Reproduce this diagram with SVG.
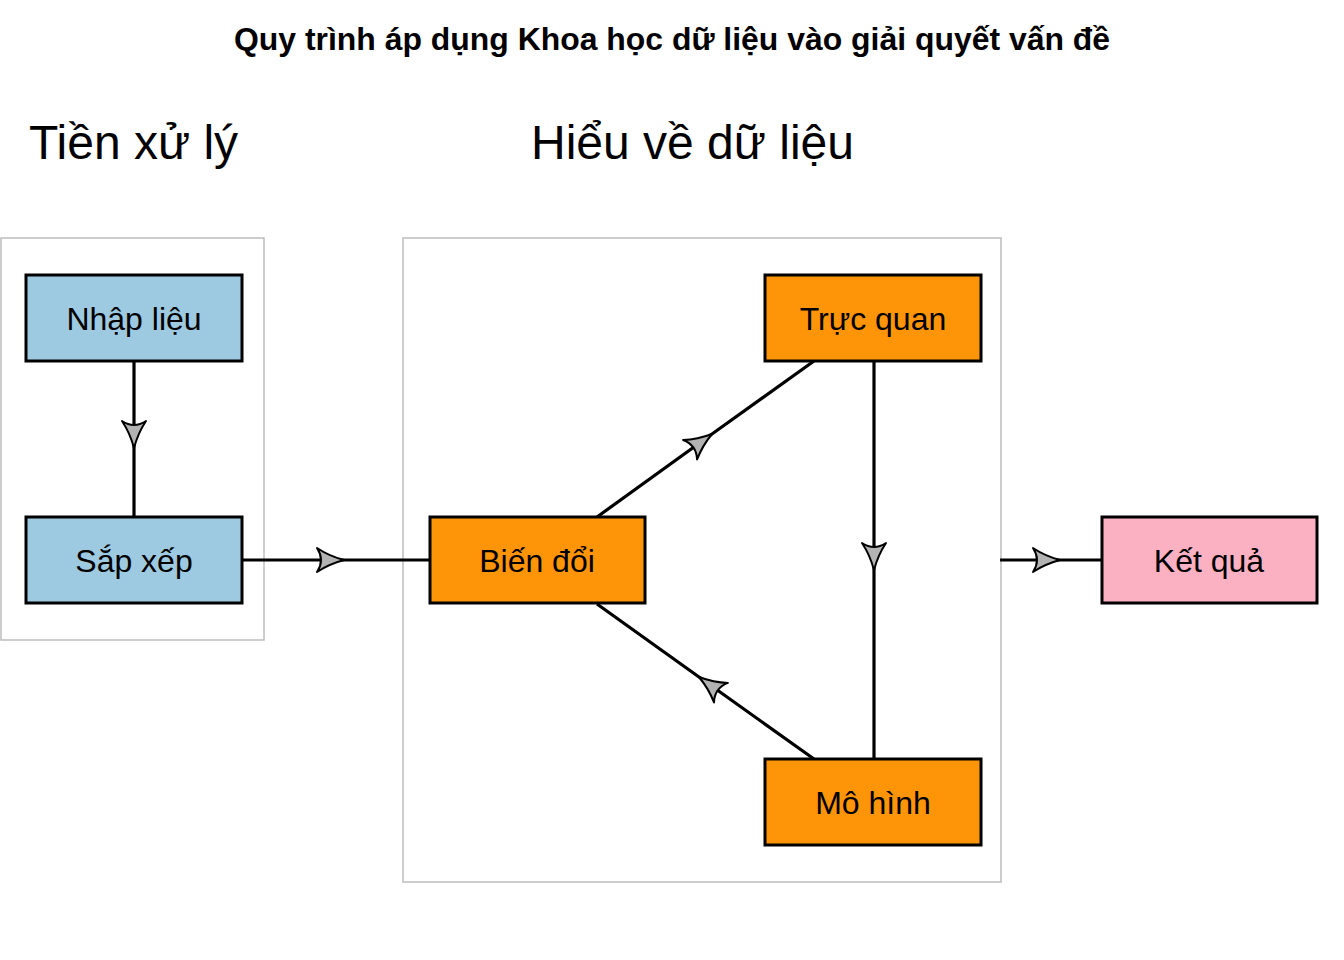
<svg xmlns="http://www.w3.org/2000/svg" width="1344" height="960" viewBox="0 0 1344 960">
<style>
text{font-family:"Liberation Sans",Arial,sans-serif;fill:#000}
.title{font-size:31px;font-weight:bold}
.cl{font-size:48px}
.lbl{font-size:32px}
.cluster{fill:none;stroke:#bdbdbd;stroke-width:1.5}
.node{stroke:#000;stroke-width:3}
.blue{fill:#9ecae1}
.orange{fill:#fe9408}
.pink{fill:#fcb1c3}
.edge{fill:none;stroke:#000;stroke-width:3.2;marker-mid:url(#ah)}
</style>
<defs>
<marker id="ah" markerUnits="userSpaceOnUse" viewBox="-30 -14 32 28" refX="0" refY="0" markerWidth="32" markerHeight="28" orient="auto" overflow="visible">
<path d="M0,0 Q-15,-4 -27,-12 Q-19,0 -27,12 Q-15,4 0,0 Z" fill="#b3b3b3" stroke="#000" stroke-width="2" stroke-linejoin="round"/>
</marker>
</defs>
<text class="title" x="672" y="50" text-anchor="middle" textLength="876" lengthAdjust="spacingAndGlyphs">Quy trình áp dụng Khoa học dữ liệu vào giải quyết vấn đề</text>
<g id="cluster-tien-xu-ly">
<rect class="cluster" x="1" y="238" width="263" height="402"/>
<text class="cl" x="29" y="159">Tiền xử lý</text>
</g>
<g id="cluster-hieu-ve-du-lieu">
<rect class="cluster" x="403" y="238" width="598" height="644"/>
<text class="cl" x="531" y="159">Hiểu về dữ liệu</text>
</g>
<g id="edges">
<path class="edge" d="M134,361 L134,448 L134,517"/>
<path class="edge" d="M242,560 L344,560 L430,560"/>
<path class="edge" d="M597,517 L712,434 L814,361"/>
<path class="edge" d="M874,361 L874,570 L874,759"/>
<path class="edge" d="M814,759 L699,677 L597,604"/>
<path class="edge" d="M1000,560 L1060,560 L1102,560"/>
</g>
<g id="node-nhap-lieu">
<rect class="node blue" x="26" y="275" width="216" height="86"/>
<text class="lbl" x="134" y="330" text-anchor="middle">Nhập liệu</text>
</g>
<g id="node-sap-xep">
<rect class="node blue" x="26" y="517" width="216" height="86"/>
<text class="lbl" x="134" y="572" text-anchor="middle">Sắp xếp</text>
</g>
<g id="node-bien-doi">
<rect class="node orange" x="430" y="517" width="215" height="86"/>
<text class="lbl" x="537" y="572" text-anchor="middle">Biến đổi</text>
</g>
<g id="node-truc-quan">
<rect class="node orange" x="765" y="275" width="216" height="86"/>
<text class="lbl" x="873" y="330" text-anchor="middle">Trực quan</text>
</g>
<g id="node-mo-hinh">
<rect class="node orange" x="765" y="759" width="216" height="86"/>
<text class="lbl" x="873" y="814" text-anchor="middle">Mô hình</text>
</g>
<g id="node-ket-qua">
<rect class="node pink" x="1102" y="517" width="215" height="86"/>
<text class="lbl" x="1209" y="572" text-anchor="middle">Kết quả</text>
</g>
</svg>
